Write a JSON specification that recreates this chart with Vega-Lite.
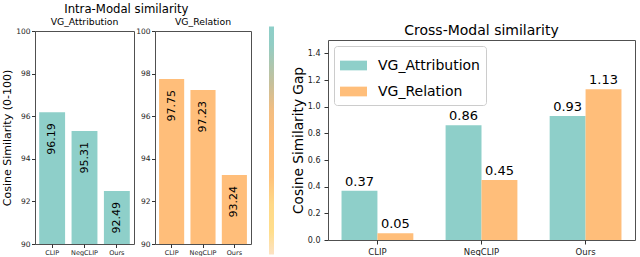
{
  "$schema": "https://vega.github.io/schema/vega-lite/v6.json",
  "padding": {"left": 1, "top": 3, "right": 0, "bottom": -9},
  "background": "white",
  "datasets": {
    "intra": [
      {"dataset": "VG_Attribution", "model": "CLIP", "value": 96.19},
      {"dataset": "VG_Attribution", "model": "NegCLIP", "value": 95.31},
      {"dataset": "VG_Attribution", "model": "Ours", "value": 92.49},
      {"dataset": "VG_Relation", "model": "CLIP", "value": 97.75},
      {"dataset": "VG_Relation", "model": "NegCLIP", "value": 97.23},
      {"dataset": "VG_Relation", "model": "Ours", "value": 93.24}
    ],
    "cross": [
      {"dataset": "VG_Attribution", "model": "CLIP", "value": 0.37},
      {"dataset": "VG_Relation", "model": "CLIP", "value": 0.05},
      {"dataset": "VG_Attribution", "model": "NegCLIP", "value": 0.86},
      {"dataset": "VG_Relation", "model": "NegCLIP", "value": 0.45},
      {"dataset": "VG_Attribution", "model": "Ours", "value": 0.93},
      {"dataset": "VG_Relation", "model": "Ours", "value": 1.13}
    ],
    "bar": [{"lo": 0, "hi": 1}]
  },
  "spacing": 17,
  "center": true,
  "resolve": {"legend": {"color": "independent"}, "scale": {"color": "independent"}},
  "hconcat": [
    {
      "title": {"text": "Intra-Modal similarity", "fontSize": 11.7, "anchor": "middle", "offset": 2},
      "spacing": 0,
      "hconcat": [
        {
          "width": 99,
          "height": 213,
          "title": {"text": "VG_Attribution", "fontSize": 9.3, "offset": 0},
          "data": {"name": "intra"},
          "transform": [{"filter": "datum.dataset === 'VG_Attribution'"}],
          "encoding": {
            "x": {"field": "model", "type": "nominal", "sort": ["CLIP", "NegCLIP", "Ours"],
              "scale": {"paddingInner": 0.2, "paddingOuter": 0.13},
              "axis": {"title": " ", "titleFontSize": 9, "titlePadding": 0, "labelAngle": 0, "labelFontSize": 6.5, "labelPadding": 1.5}},
            "y": {"field": "value", "type": "quantitative", "scale": {"domain": [90, 100], "zero": false},
              "axis": {"title": "Cosine Similarity (0-100)", "titleFontSize": 11, "values": [90, 92, 94, 96, 98, 100], "labelFontSize": 7.5, "labelPadding": 1.5, "titlePadding": 3}}
          },
          "layer": [
            {"mark": {"type": "bar", "color": "#8ECFC9"}, "encoding": {"y2": {"datum": 90}}},
            {"mark": {"type": "text", "angle": 270, "align": "right", "baseline": "middle", "yOffset": 11, "fontSize": 11, "color": "black"},
              "encoding": {"text": {"field": "value", "type": "quantitative", "format": ".2f"}}}
          ]
        },
        {
          "width": 96,
          "height": 213,
          "title": {"text": "VG_Relation", "fontSize": 9.3, "offset": 0},
          "data": {"name": "intra"},
          "transform": [{"filter": "datum.dataset === 'VG_Relation'"}],
          "encoding": {
            "x": {"field": "model", "type": "nominal", "sort": ["CLIP", "NegCLIP", "Ours"],
              "scale": {"paddingInner": 0.2, "paddingOuter": 0.13},
              "axis": {"title": " ", "titleFontSize": 9, "titlePadding": 0, "labelAngle": 0, "labelFontSize": 6.5, "labelPadding": 1.5}},
            "y": {"field": "value", "type": "quantitative", "scale": {"domain": [90, 100], "zero": false},
              "axis": {"title": null, "values": [90, 92, 94, 96, 98, 100], "labelFontSize": 7.5, "labelPadding": 1.5}}
          },
          "layer": [
            {"mark": {"type": "bar", "color": "#FFBE7A"}, "encoding": {"y2": {"datum": 90}}},
            {"mark": {"type": "text", "angle": 270, "align": "right", "baseline": "middle", "yOffset": 11, "fontSize": 11, "color": "black"},
              "encoding": {"text": {"field": "value", "type": "quantitative", "format": ".2f"}}}
          ]
        }
      ]
    },
    {
      "width": 5,
      "height": 228,
      "view": {"stroke": null},
      "data": {"name": "bar"},
      "mark": {"type": "rect", "color": {"gradient": "linear", "x1": 0, "y1": 0, "x2": 0, "y2": 1,
        "stops": [
          {"offset": 0, "color": "#8ECFC9"},
          {"offset": 0.08, "color": "#92CDC4"},
          {"offset": 0.25, "color": "#C6C09B"},
          {"offset": 0.37, "color": "#F3BD80"},
          {"offset": 0.5, "color": "#FFBE7A"},
          {"offset": 0.66, "color": "#FFC27B"},
          {"offset": 0.78, "color": "#FFD988"},
          {"offset": 0.9, "color": "#FFDE8C"},
          {"offset": 1, "color": "#FCE2C4"}
        ]}},
      "encoding": {
        "y": {"field": "lo", "type": "quantitative", "scale": {"domain": [-0.0328, 0.9672], "zero": false, "nice": false}, "axis": null},
        "y2": {"field": "hi"}
      }
    },
    {
      "width": 307,
      "height": 200,
      "title": {"text": "Cross-Modal similarity", "fontSize": 14, "offset": 2},
      "data": {"name": "cross"},
      "encoding": {
        "x": {"field": "model", "type": "nominal", "sort": ["CLIP", "NegCLIP", "Ours"],
          "scale": {"paddingInner": 0.31, "paddingOuter": 0.13},
          "axis": {"title": null, "labelAngle": 0, "labelFontSize": 8.5, "labelPadding": 3, "tickSize": 4}},
        "xOffset": {"field": "dataset", "type": "nominal", "sort": ["VG_Attribution", "VG_Relation"],
          "scale": {"paddingInner": 0, "paddingOuter": 0}},
        "y": {"field": "value", "type": "quantitative", "scale": {"domain": [0, 1.5]},
          "axis": {"title": "Cosine Similarity Gap", "titleFontSize": 13.7, "values": [0, 0.2, 0.4, 0.6, 0.8, 1.0, 1.2, 1.4], "format": ".1f", "labelFontSize": 8, "tickSize": 4, "labelPadding": 4, "titlePadding": 1.5}}
      },
      "layer": [
        {"mark": {"type": "bar"},
          "encoding": {"color": {"field": "dataset", "type": "nominal", "sort": ["VG_Attribution", "VG_Relation"],
            "scale": {"domain": ["VG_Attribution", "VG_Relation"], "range": ["#8ECFC9", "#FFBE7A"]},
            "legend": {"title": null, "orient": "top-left", "offset": 6, "padding": 6,
              "strokeColor": "#cccccc", "fillColor": "rgba(255,255,255,0.8)", "cornerRadius": 3,
              "labelFontSize": 14, "labelOffset": 11, "rowPadding": 5,
              "symbolType": "M-1,-0.36H1V0.36H-1Z", "symbolSize": 729, "symbolStrokeWidth": 0, "symbolOpacity": 1}}}},
        {"mark": {"type": "text", "baseline": "alphabetic", "dy": -5, "fontSize": 13, "color": "black"},
          "encoding": {"text": {"field": "value", "type": "quantitative", "format": ".2f"}}}
      ]
    }
  ],
  "config": {
    "font": "DejaVu Sans",
    "view": {"stroke": "#505050", "strokeWidth": 1},
    "axis": {"grid": false, "domain": false, "tickColor": "#333333", "tickSize": 3.5, "labelColor": "#222222", "labelFont": "DejaVu Sans", "titleFont": "DejaVu Sans", "titleFontWeight": "normal", "titleColor": "#000000"},
    "legend": {"labelFont": "DejaVu Sans", "labelColor": "#000000"},
    "title": {"font": "DejaVu Sans", "fontWeight": "normal", "color": "#000000"}
  }
}
